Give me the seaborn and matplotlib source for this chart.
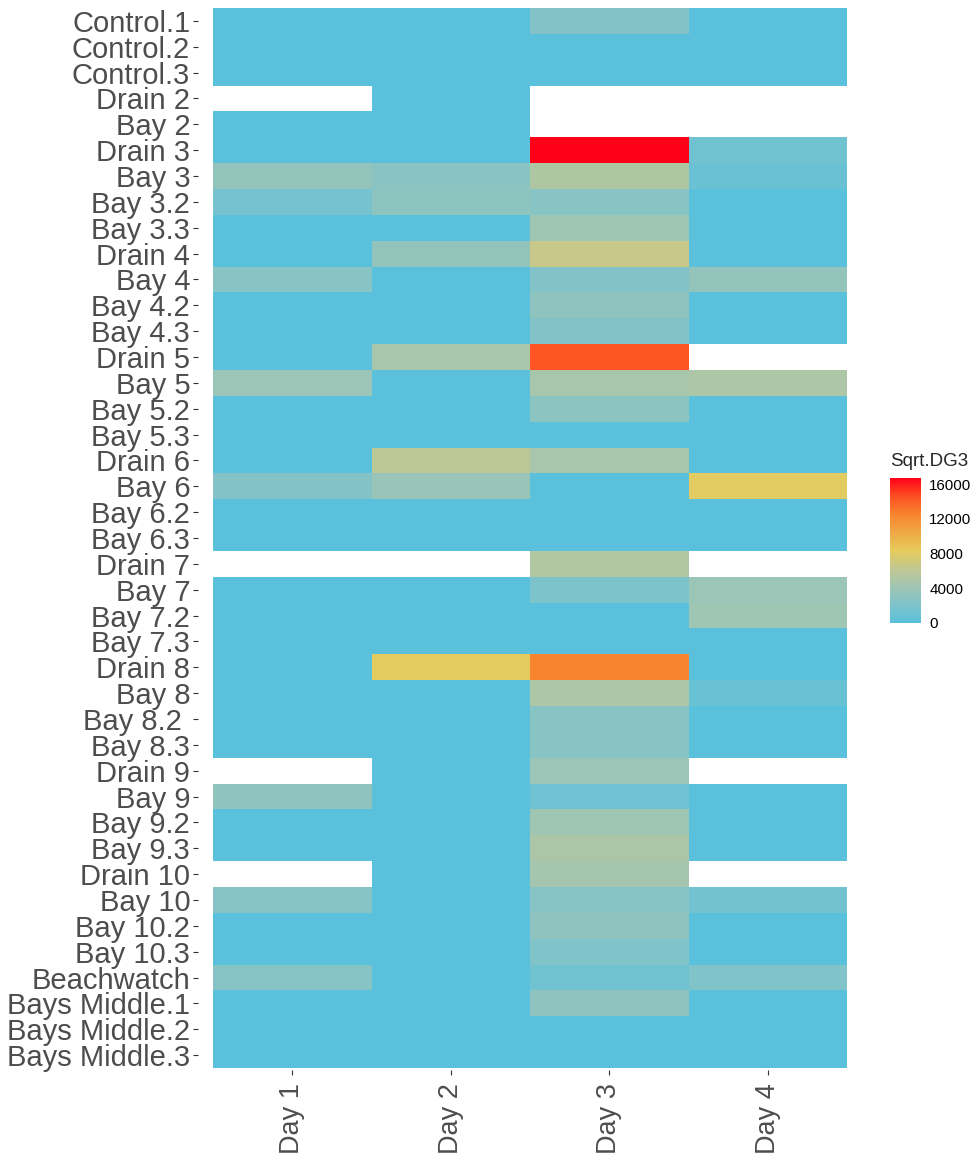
import numpy as np
import pandas as pd
import matplotlib
matplotlib.use("Agg")
import matplotlib.pyplot as plt
from matplotlib.colors import LinearSegmentedColormap
import seaborn as sns

nan = np.nan

sites = [
    "Control.1", "Control.2", "Control.3", "Drain 2", "Bay 2", "Drain 3",
    "Bay 3", "Bay 3.2", "Bay 3.3", "Drain 4", "Bay 4", "Bay 4.2", "Bay 4.3",
    "Drain 5", "Bay 5", "Bay 5.2", "Bay 5.3", "Drain 6", "Bay 6", "Bay 6.2",
    "Bay 6.3", "Drain 7", "Bay 7", "Bay 7.2", "Bay 7.3", "Drain 8", "Bay 8",
    "Bay 8.2 ", "Bay 8.3", "Drain 9", "Bay 9", "Bay 9.2", "Bay 9.3",
    "Drain 10", "Bay 10", "Bay 10.2", "Bay 10.3", "Beachwatch",
    "Bays Middle.1", "Bays Middle.2", "Bays Middle.3",
]
days = ["Day 1", "Day 2", "Day 3", "Day 4"]

day1 = [0, 0, 0, nan, 0, 0, 3360, 1680, 0, 0, 2700, 0, 0, 0, 3900, 0, 0, 0,
        2460, 0, 0, nan, 0, 0, 0, 0, 0, 0, 0, nan, 3180, 0, 0, nan, 2580, 0,
        0, 2580, 0, 0, 0]
day2 = [0, 0, 0, 0, 0, 0, 2820, 3120, 0, 3360, 0, 0, 0, 4630, 0, 0, 0, 5950,
        3660, 0, 0, nan, 0, 0, 0, 8200, 0, 0, 0, 0, 0, 0, 0, 0, 0, 0, 0, 0, 0,
        0, 0]
day3 = [2460, 0, 0, nan, nan, 16700, 5100, 2700, 4150, 6550, 2460, 3180, 2460,
        14400, 4630, 2940, 0, 4630, 0, 0, 0, 5230, 1980, 0, 0, 12500, 5000,
        2700, 2700, 3900, 1140, 4150, 4870, 4500, 2580, 3180, 2220, 1260, 3180,
        0, 0]
day4 = [0, 0, 0, nan, nan, 1260, 960, 0, 0, 0, 3420, 0, 0, nan, 4990, 0, 0, 0,
        8100, 0, 0, nan, 3900, 4150, 0, 0, 900, 0, 0, nan, 0, 0, 0, nan, 1440,
        0, 0, 2220, 0, 0, 0]

data = pd.DataFrame({"Day 1": day1, "Day 2": day2, "Day 3": day3, "Day 4": day4},
                    index=sites)[days]

# sky blue -> sand yellow -> red gradient
cmap = LinearSegmentedColormap.from_list(
    "sqrt_dg3",
    [(0.0, "#5BC0DB"), (0.125, "#7EC3CB"), (0.25, "#A0C5B2"),
     (0.375, "#C2C891"), (0.5, "#E6CB5A"), (0.75, "#F8842F"),
     (0.875, "#FD5022"), (1.0, "#FF0019")],
)
vmax = 16700

sns.set_theme(style="white")
plt.rcParams["font.family"] = ["Liberation Sans", "DejaVu Sans"]

W, H = 974, 1155
fig = plt.figure(figsize=(W / 100, H / 100), dpi=100)
ax = fig.add_axes([213 / W, 1 - 1068 / H, (847 - 213) / W, (1068 - 8) / H])
cax = fig.add_axes([890 / W, 1 - 623 / H, 31 / W, (623 - 478) / H])

sns.heatmap(data, ax=ax, cmap=cmap, vmin=0, vmax=vmax, cbar_ax=cax,
            cbar_kws={"ticks": [0, 4000, 8000, 12000, 16000]})
ax.set_facecolor("white")
ax.set_xlabel("")
ax.set_ylabel("")

for s in ax.spines.values():
    s.set_visible(False)
ax.spines["left"].set_position(("outward", 10.8))
ax.spines["bottom"].set_position(("outward", 1.5))

ax.set_yticks(np.arange(len(sites)) + 0.5)
ax.set_yticklabels(sites, rotation=0, fontsize=21, color="#4D4D4D")
ax.set_xticks(np.arange(len(days)) + 0.5)
ax.set_xticklabels(days, rotation=90, fontsize=19.5, color="#4D4D4D")
ax.tick_params(axis="both", which="major", length=3.6, width=0.8,
               color="#333333", pad=2)
ax.tick_params(axis="x", pad=6)
ax.tick_params(axis="y", left=True)
ax.tick_params(axis="x", bottom=True)

cbar = ax.collections[0].colorbar
cbar.outline.set_visible(False)
cax.tick_params(left=True, right=True, labelleft=False, labelright=True,
                direction="in", length=4, width=0.8, color="white",
                labelsize=10.9, labelcolor="black", pad=6)
cax.set_title("Sqrt.DG3", fontsize=13.5, loc="left", pad=9, x=0.0)

fig.savefig("out.png", dpi=100, facecolor="white")
